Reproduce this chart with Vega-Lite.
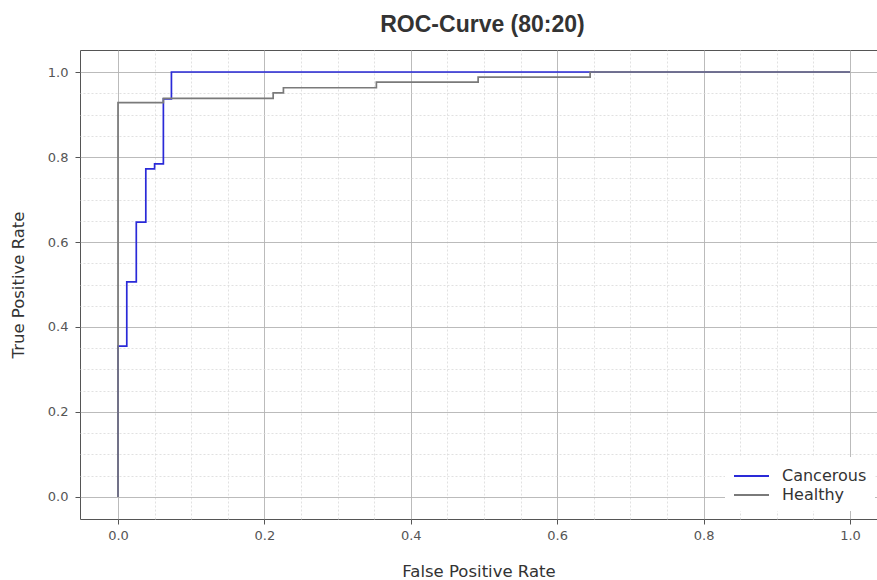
{
  "$schema": "https://vega.github.io/schema/vega-lite/v6.json",
  "width": 797,
  "height": 469,
  "autosize": {"type": "none"},
  "padding": {"left": 80, "top": 50, "right": 0, "bottom": 61},
  "background": "white",
  "title": {"text": "ROC-Curve (80:20)", "font": "Liberation Sans", "fontSize": 23, "fontWeight": "bold", "color": "#333333", "anchor": "middle", "offset": 13, "dx": 4},
  "config": {"view": {"stroke": "#555555", "strokeWidth": 1}},
  "data": {"values": [
    {"curve": "Cancerous", "i": 0, "fpr": 0.0, "tpr": 0.0},
    {"curve": "Cancerous", "i": 1, "fpr": 0.0, "tpr": 0.355},
    {"curve": "Cancerous", "i": 2, "fpr": 0.012, "tpr": 0.355},
    {"curve": "Cancerous", "i": 3, "fpr": 0.012, "tpr": 0.506},
    {"curve": "Cancerous", "i": 4, "fpr": 0.025, "tpr": 0.506},
    {"curve": "Cancerous", "i": 5, "fpr": 0.025, "tpr": 0.647},
    {"curve": "Cancerous", "i": 6, "fpr": 0.038, "tpr": 0.647},
    {"curve": "Cancerous", "i": 7, "fpr": 0.038, "tpr": 0.772},
    {"curve": "Cancerous", "i": 8, "fpr": 0.05, "tpr": 0.772},
    {"curve": "Cancerous", "i": 9, "fpr": 0.05, "tpr": 0.784},
    {"curve": "Cancerous", "i": 10, "fpr": 0.062, "tpr": 0.784},
    {"curve": "Cancerous", "i": 11, "fpr": 0.062, "tpr": 0.937},
    {"curve": "Cancerous", "i": 12, "fpr": 0.073, "tpr": 0.937},
    {"curve": "Cancerous", "i": 13, "fpr": 0.073, "tpr": 1.0},
    {"curve": "Cancerous", "i": 14, "fpr": 1.0, "tpr": 1.0},
    {"curve": "Healthy", "i": 0, "fpr": 0.0, "tpr": 0.0},
    {"curve": "Healthy", "i": 1, "fpr": 0.0, "tpr": 0.928},
    {"curve": "Healthy", "i": 2, "fpr": 0.062, "tpr": 0.928},
    {"curve": "Healthy", "i": 3, "fpr": 0.062, "tpr": 0.938},
    {"curve": "Healthy", "i": 4, "fpr": 0.212, "tpr": 0.938},
    {"curve": "Healthy", "i": 5, "fpr": 0.212, "tpr": 0.951},
    {"curve": "Healthy", "i": 6, "fpr": 0.226, "tpr": 0.951},
    {"curve": "Healthy", "i": 7, "fpr": 0.226, "tpr": 0.963},
    {"curve": "Healthy", "i": 8, "fpr": 0.353, "tpr": 0.963},
    {"curve": "Healthy", "i": 9, "fpr": 0.353, "tpr": 0.976},
    {"curve": "Healthy", "i": 10, "fpr": 0.492, "tpr": 0.976},
    {"curve": "Healthy", "i": 11, "fpr": 0.492, "tpr": 0.988},
    {"curve": "Healthy", "i": 12, "fpr": 0.645, "tpr": 0.988},
    {"curve": "Healthy", "i": 13, "fpr": 0.645, "tpr": 1.0},
    {"curve": "Healthy", "i": 14, "fpr": 1.0, "tpr": 1.0}
  ]},
  "layer": [
    {
      "mark": {"type": "line", "opacity": 0},
      "encoding": {
        "x": {"field": "fpr", "type": "quantitative", "scale": {"domain": [-0.0519, 1.0369], "nice": false, "zero": false},
          "axis": {"orient": "top", "values": [0.05, 0.1, 0.15, 0.25, 0.3, 0.35, 0.45, 0.5, 0.55, 0.65, 0.7, 0.75, 0.85, 0.9, 0.95],
            "labels": false, "ticks": false, "domain": false, "title": null, "grid": true, "gridColor": "#d9d9d9", "gridDash": [2, 2], "gridWidth": 0.8}},
        "y": {"field": "tpr", "type": "quantitative", "scale": {"domain": [-0.0518, 1.0518], "nice": false, "zero": false},
          "axis": {"orient": "right", "values": [0.05, 0.1, 0.15, 0.25, 0.3, 0.35, 0.45, 0.5, 0.55, 0.65, 0.7, 0.75, 0.85, 0.9, 0.95],
            "labels": false, "ticks": false, "domain": false, "title": null, "grid": true, "gridColor": "#d9d9d9", "gridDash": [2, 2], "gridWidth": 0.8}},
        "detail": {"field": "curve"},
        "order": {"field": "i"}
      }
    },
    {
      "transform": [{"filter": "datum.curve == 'Cancerous'"}],
      "mark": {"type": "line", "strokeWidth": 1.7},
      "encoding": {
        "x": {"field": "fpr", "type": "quantitative", "scale": {"domain": [-0.0519, 1.0369], "nice": false, "zero": false},
          "axis": {"orient": "bottom", "values": [0, 0.2, 0.4, 0.6, 0.8, 1.0], "format": ".1f", "grid": true, "gridColor": "#b3b3b3", "gridWidth": 0.9,
            "domain": false, "tickSize": 5, "tickColor": "#555555", "labelFont": "DejaVu Sans", "labelFontSize": 13, "labelColor": "#555555", "labelPadding": 5,
            "title": "False Positive Rate", "titleFont": "DejaVu Sans", "titleFontSize": 16.5, "titleFontWeight": "normal", "titleColor": "#333333", "titlePadding": 21}},
        "y": {"field": "tpr", "type": "quantitative", "scale": {"domain": [-0.0518, 1.0518], "nice": false, "zero": false},
          "axis": {"orient": "left", "values": [0, 0.2, 0.4, 0.6, 0.8, 1.0], "format": ".1f", "grid": true, "gridColor": "#b3b3b3", "gridWidth": 0.9,
            "domain": false, "tickSize": 5, "tickColor": "#555555", "labelFont": "DejaVu Sans", "labelFontSize": 13, "labelColor": "#555555", "labelPadding": 7,
            "title": "True Positive Rate", "titleFont": "DejaVu Sans", "titleFontSize": 16.5, "titleFontWeight": "normal", "titleColor": "#333333", "titlePadding": 21}},
        "color": {"field": "curve", "type": "nominal", "scale": {"domain": ["Cancerous", "Healthy"], "range": ["#2a2ad8", "#7a7a7a"]},
          "legend": {"orient": "none", "legendX": 645, "legendY": 407, "title": null, "fillColor": "white", "padding": 8,
            "symbolType": "M-1,0H2.5", "symbolSize": 400, "symbolStrokeWidth": 1.8, "labelOffset": 27,
            "labelFont": "DejaVu Sans", "labelFontSize": 16, "labelColor": "#333333", "rowPadding": 0}},
        "order": {"field": "i"}
      }
    },
    {
      "transform": [{"filter": "datum.curve == 'Healthy'"}],
      "mark": {"type": "line", "strokeWidth": 1.7},
      "encoding": {
        "x": {"field": "fpr", "type": "quantitative", "axis": null},
        "y": {"field": "tpr", "type": "quantitative", "axis": null},
        "color": {"field": "curve", "type": "nominal"},
        "order": {"field": "i"}
      }
    }
  ],
  "resolve": {"axis": {"x": "independent", "y": "independent"}}
}
